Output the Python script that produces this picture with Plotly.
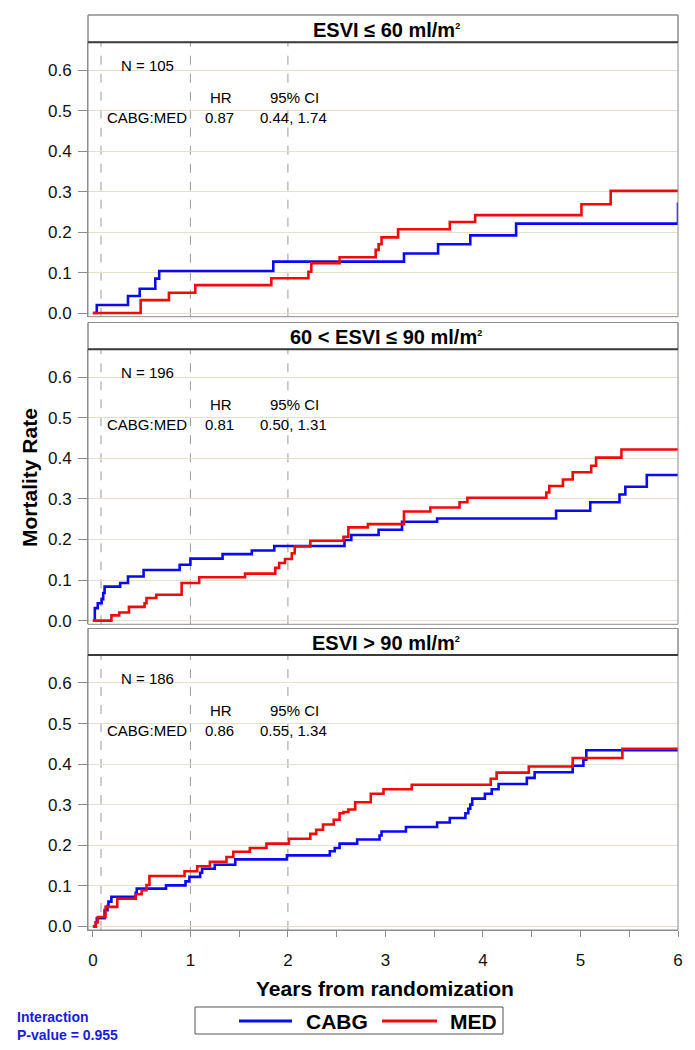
import plotly.graph_objects as go

# ---------------- data ----------------
SUP2 = "<sup><span style='font-size:9px'>2</span></sup>"
panel_titles = ["ESVI ≤ 60 ml/m" + SUP2,
                "60 < ESVI ≤ 90 ml/m" + SUP2,
                "ESVI > 90 ml/m" + SUP2]
panel_n = ["N = 105", "N = 196", "N = 186"]
panel_hr = ["0.87", "0.81", "0.86"]
panel_ci = ["0.44, 1.74", "0.50, 1.31", "0.55, 1.34"]

cabg1_t = [0, 0.04, 0.36, 0.48, 0.64, 0.68, 1.85, 3.19, 3.54, 3.87, 4.34, 6.0]
cabg1_y = [0, 0.02, 0.042, 0.06, 0.085, 0.104, 0.127, 0.147, 0.17, 0.192, 0.221, 0.273]
med1_t = [0, 0.49, 0.78, 1.05, 1.83, 2.21, 2.24, 2.53, 2.90, 2.93, 2.96, 3.13, 3.66, 3.92, 5.01, 5.31, 6.0]
med1_y = [0, 0.032, 0.05, 0.069, 0.086, 0.102, 0.123, 0.138, 0.156, 0.17, 0.187, 0.207, 0.225, 0.242, 0.269, 0.302, 0.302]

cabg2_t = [0, 0.02, 0.05, 0.09, 0.106, 0.12, 0.28, 0.36, 0.52, 0.89, 1.0, 1.33, 1.63, 1.86, 2.58, 2.65,
           2.93, 3.17, 3.53, 4.75, 5.10, 5.40, 5.46, 5.68, 6.0]
cabg2_y = [0, 0.031, 0.043, 0.053, 0.068, 0.084, 0.093, 0.109, 0.125, 0.138, 0.153, 0.164, 0.173, 0.184, 0.199, 0.211,
           0.224, 0.244, 0.252, 0.271, 0.292, 0.311, 0.330, 0.359, 0.359]
med2_t = [0, 0.19, 0.27, 0.37, 0.53, 0.55, 0.65, 0.91, 1.09, 1.56, 1.87, 1.91, 1.97, 2.04, 2.07, 2.23, 2.57, 2.62,
          2.82, 3.19, 3.46, 3.76, 3.84, 4.65, 4.68, 4.82, 4.92, 5.11, 5.16, 5.42, 6.0]
med2_y = [0, 0.013, 0.020, 0.034, 0.043, 0.056, 0.064, 0.093, 0.107, 0.116, 0.130, 0.142, 0.152, 0.166, 0.183, 0.197,
          0.207, 0.230, 0.238, 0.269, 0.279, 0.292, 0.303, 0.316, 0.332, 0.348, 0.366, 0.382, 0.402, 0.422, 0.422]

cabg3_t = [0, 0.03, 0.04, 0.12, 0.15, 0.16, 0.19, 0.44, 0.45, 0.75, 0.95, 0.99, 1.10, 1.12, 1.25, 1.46, 1.99, 2.43,
           2.48, 2.53, 2.71, 2.94, 2.96, 3.21, 3.53, 3.66, 3.82, 3.85, 3.87, 3.89, 4.02, 4.09, 4.16, 4.45, 4.53, 4.92,
           5.03, 5.06, 6.0]
cabg3_y = [0, 0.01, 0.02, 0.04, 0.05, 0.061, 0.073, 0.083, 0.093, 0.101, 0.111, 0.122, 0.132, 0.142, 0.152, 0.165,
           0.175, 0.185, 0.193, 0.204, 0.214, 0.224, 0.234, 0.245, 0.256, 0.267, 0.279, 0.29, 0.30, 0.315, 0.327, 0.338,
           0.351, 0.366, 0.380, 0.396, 0.411, 0.434, 0.434]
med3_t = [0, 0.03, 0.05, 0.13, 0.25, 0.44, 0.50, 0.55, 0.58, 0.94, 1.07, 1.20, 1.37, 1.44, 1.61, 1.78, 2.01, 2.23,
          2.29, 2.36, 2.47, 2.53, 2.57, 2.62, 2.69, 2.85, 2.98, 3.27, 4.08, 4.14, 4.47, 4.92, 5.43, 6.0]
med3_y = [0, 0.01, 0.023, 0.048, 0.068, 0.079, 0.089, 0.102, 0.124, 0.136, 0.148, 0.159, 0.171, 0.184, 0.193, 0.204,
          0.216, 0.228, 0.238, 0.251, 0.263, 0.279, 0.282, 0.288, 0.306, 0.327, 0.338, 0.349, 0.364, 0.379, 0.394,
          0.415, 0.438, 0.438]

cabg_series = [(cabg1_t, cabg1_y), (cabg2_t, cabg2_y), (cabg3_t, cabg3_y)]
med_series = [(med1_t, med1_y), (med2_t, med2_y), (med3_t, med3_y)]
series_names = ["CABG", "MED"]

y_ticks = [0.0, 0.1, 0.2, 0.3, 0.4, 0.5, 0.6]
x_ticks = [0, 1, 2, 3, 4, 5, 6]
ref_lines = [1 / 12, 1, 2]

# ---------------- layout helpers ----------------
OFF = 8                      # page body margin of the html page
W, H = 695 - OFF, 1050 - OFF
PL, PR = 88, 678             # plot left/right on screen
ML, MR = PL - OFF, 695 - PR
PW = PR - PL
FONT = "Liberation Sans, Arial, sans-serif"
BLUE = "#0a0af0"
RED = "#f00a0a"
GREY = "#8c8c8c"

def fy(p):  # screen pixel y -> paper
    return 1 - (p - OFF) / (H - 0)

def fx(p):  # screen pixel x -> paper
    return (p - PL) / PW

# (header top, header bottom = plot top, plot bottom) in screen pixels
panels_px = [(15, 42.3, 316.7), (322.5, 349.3, 624.3), (628.5, 655, 930)]
YR = [-0.009, 0.669]

fig = go.Figure()
shapes = []
annotations = []

for i in range(3):
    xa = "x" if i == 0 else f"x{i+1}"
    ya = "y" if i == 0 else f"y{i+1}"
    ht, pt, pb = panels_px[i]
    ct, cy = cabg_series[i]
    mt, my = med_series[i]
    fig.add_trace(go.Scatter(x=ct, y=cy, mode="lines", line=dict(color=BLUE, width=2.6, shape="hv"),
                             name=series_names[0], showlegend=False, xaxis=xa, yaxis=ya))
    fig.add_trace(go.Scatter(x=mt, y=my, mode="lines", line=dict(color=RED, width=2.6, shape="hv"),
                             name=series_names[1], showlegend=False, xaxis=xa, yaxis=ya))

    xkey = "xaxis" if i == 0 else f"xaxis{i+1}"
    ykey = "yaxis" if i == 0 else f"yaxis{i+1}"
    last = (i == 2)
    xa_cfg = dict(
        domain=[0, 1], range=[-0.05, 6.0], anchor=ya, showgrid=False, zeroline=False,
        showline=last, linecolor=GREY, linewidth=1,
        tickvals=x_ticks if last else [], ticks="outside" if last else "", ticklen=6, tickcolor=GREY,
        showticklabels=last, tickfont=dict(family=FONT, size=17, color="#111"),
    )
    if last:
        xa_cfg["minor"] = dict(dtick=0.5, ticks="outside", ticklen=6, tickcolor=GREY, showgrid=False)
        xa_cfg["ticklabelstandoff"] = 9
    else:
        xa_cfg["matches"] = "x3"
    fig.layout[xkey] = xa_cfg
    fig.layout[ykey] = dict(
        domain=[fy(pb), fy(pt)], range=YR, anchor=xa, tickvals=y_ticks, ticktext=[f"{v:.1f}" for v in y_ticks],
        ticks="outside", ticklen=9, tickcolor=GREY, showline=True, linecolor=GREY, linewidth=1,
        showgrid=True, gridcolor="#e4e0cc", gridwidth=1, zeroline=False,
        tickfont=dict(family=FONT, size=17, color="#111"), ticklabelstandoff=3,
    )

    # reference dashed lines
    for rx in ref_lines:
        shapes.append(dict(type="line", xref=xa, yref=f"{ya} domain", x0=rx, x1=rx, y0=0, y1=1,
                           line=dict(color="#9a9a9a", width=1, dash="dash"), layer="below"))
    # header box
    shapes.append(dict(type="rect", xref="paper", yref="paper", x0=0, x1=1, y0=fy(pt), y1=fy(ht),
                       fillcolor="white", line=dict(color=GREY, width=1)))
    # outer panel border
    shapes.append(dict(type="rect", xref="paper", yref="paper", x0=0, x1=1, y0=fy(pb), y1=fy(ht),
                       fillcolor="rgba(0,0,0,0)", line=dict(color=GREY, width=1)))
    # thick header bottom rule
    shapes.append(dict(type="line", xref="paper", yref="paper", x0=0, x1=1, y0=fy(pt), y1=fy(pt),
                       line=dict(color="#3a3a3a", width=2)))

    annotations.append(dict(text=f"<b>{panel_titles[i]}</b>", xref="paper", yref="paper", x=fx(386),
                            y=fy((ht + pt) / 2 + 1), xanchor="center", yanchor="middle", showarrow=False,
                            font=dict(family=FONT, size=20, color="#000")))
    afont = dict(family=FONT, size=15, color="#000")
    for txt, ax, ay in [(panel_n[i], 0.56, 0.612), ("HR", 1.31, 0.532), ("95% CI", 2.07, 0.532),
                        ("CABG:MED", 0.553, 0.483), (panel_hr[i], 1.30, 0.483), (panel_ci[i], 2.06, 0.483)]:
        annotations.append(dict(text=txt, xref=xa, yref=ya, x=ax, y=ay, xanchor="center", yanchor="middle",
                                showarrow=False, font=afont))

annotations.append(dict(text="<b>Mortality Rate</b>", xref="paper", yref="paper", x=fx(29),
                        y=fy(478), xanchor="center", yanchor="middle", textangle=-90, showarrow=False,
                        font=dict(family=FONT, size=21, color="#000")))
annotations.append(dict(text="<b>Years from randomization</b>", xref="paper", yref="paper", x=fx(385),
                        y=fy(988), xanchor="center", yanchor="middle", showarrow=False,
                        font=dict(family=FONT, size=21, color="#000")))
annotations.append(dict(text="<b>Interaction<br>P-value = 0.955</b>", xref="paper", yref="paper",
                        x=fx(15), y=fy(1026), xanchor="left", yanchor="middle", align="left",
                        showarrow=False, font=dict(family=FONT, size=14, color="#1a1ae0")))

# legend (drawn as a box with line samples and labels)
shapes.append(dict(type="rect", xref="paper", yref="paper", x0=fx(195), x1=fx(503), y0=fy(1034), y1=fy(1007),
                   fillcolor="white", line=dict(color="#555", width=1)))
for (lx0, lx1, tx), col, nm in [((239, 292, 304), BLUE, series_names[0]), ((382, 437, 448), RED, series_names[1])]:
    shapes.append(dict(type="line", xref="paper", yref="paper", x0=fx(lx0), x1=fx(lx1), y0=fy(1021), y1=fy(1021),
                       line=dict(color=col, width=3)))
    annotations.append(dict(text=f"<b>{nm}</b>", xref="paper", yref="paper", x=fx(tx), y=fy(1021),
                            xanchor="left", yanchor="middle", showarrow=False,
                            font=dict(family=FONT, size=21, color="#000")))

fig.update_layout(
    width=W, height=H, margin=dict(l=ML, r=MR, t=0, b=0, autoexpand=False),
    paper_bgcolor="white", plot_bgcolor="white",
    shapes=shapes, annotations=annotations,
    showlegend=False,
)

fig.write_html("out.html")
